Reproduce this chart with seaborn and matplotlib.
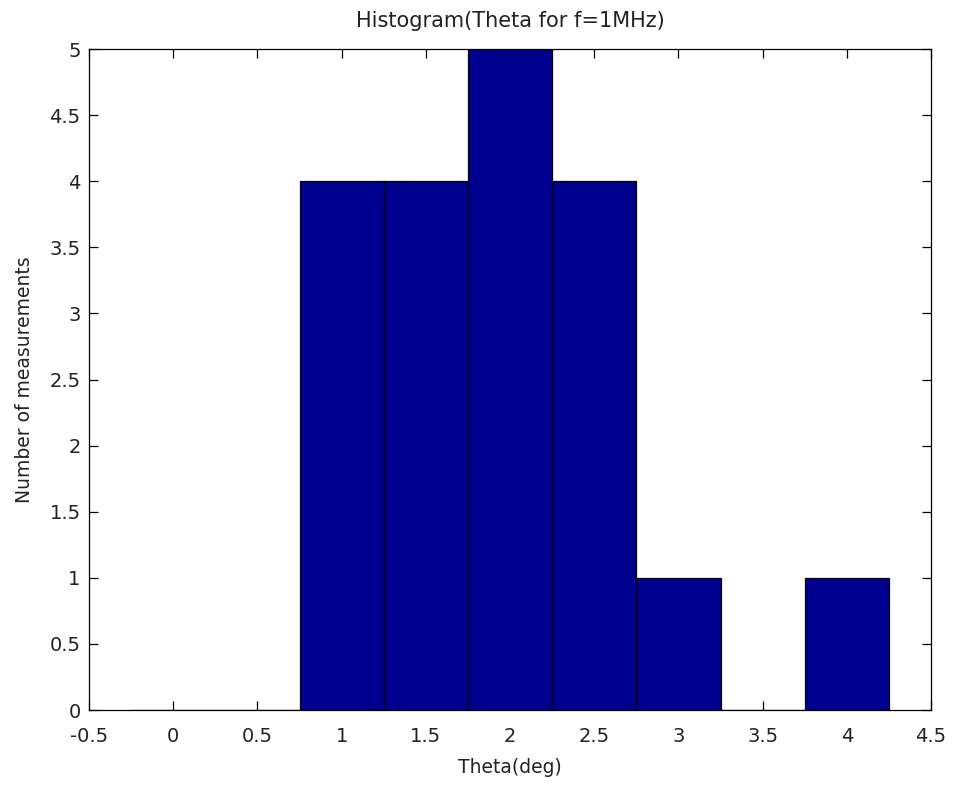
import pandas as pd
import seaborn as sns
from matplotlib import pyplot as plt

# bin centres (deg) and counts
theta_centers = [0.0, 0.5, 1.0, 1.5, 2.0, 2.5, 3.0, 3.5, 4.0]
counts = [0, 0, 4, 4, 5, 4, 1, 0, 1]
x_ticks = [-0.5, 0, 0.5, 1, 1.5, 2, 2.5, 3, 3.5, 4, 4.5]
y_ticks = [0, 0.5, 1, 1.5, 2, 2.5, 3, 3.5, 4, 4.5, 5]
x_labels = ['-0.5', '0', '0.5', '1', '1.5', '2', '2.5', '3', '3.5', '4', '4.5']
y_labels = ['0', '0.5', '1', '1.5', '2', '2.5', '3', '3.5', '4', '4.5', '5']

df = pd.DataFrame({'theta': theta_centers, 'n': counts})

sns.set_style('white')
plt.rcParams['font.family'] = ['DejaVu Sans']

fig = plt.figure(figsize=(9.54, 7.92), dpi=100)
ax = fig.add_axes([0.0933, 0.1035, 0.8826, 0.8346])

sns.barplot(data=df, x='theta', y='n', native_scale=True, width=1,
            color='#00008f', saturation=1, edgecolor='black', linewidth=0.9,
            errorbar=None, ax=ax)

ax.set_xlim(-0.5, 4.5)
ax.set_ylim(0, 5)
ax.set_xticks(x_ticks)
ax.set_xticklabels(x_labels)
ax.set_yticks(y_ticks)
ax.set_yticklabels(y_labels)
ax.tick_params(direction='in', length=6.5, width=0.9, top=True, right=True,
               bottom=True, left=True, labelsize=14, color='black',
               labelcolor='#222222')
ax.tick_params(axis='x', pad=12)
ax.tick_params(axis='y', pad=6)
for s in ax.spines.values():
    s.set_visible(True)
    s.set_color('black')
    s.set_linewidth(0.9)

ax.set_title('Histogram(Theta for f=1MHz)', fontsize=15, pad=16, color='#222222')
ax.set_xlabel('Theta(deg)', fontsize=13.5, labelpad=9, color='#222222')
ax.set_ylabel('Number of measurements', fontsize=13.5, labelpad=11, color='#222222')

fig.savefig('out.png', dpi=100)
plt.close(fig)
